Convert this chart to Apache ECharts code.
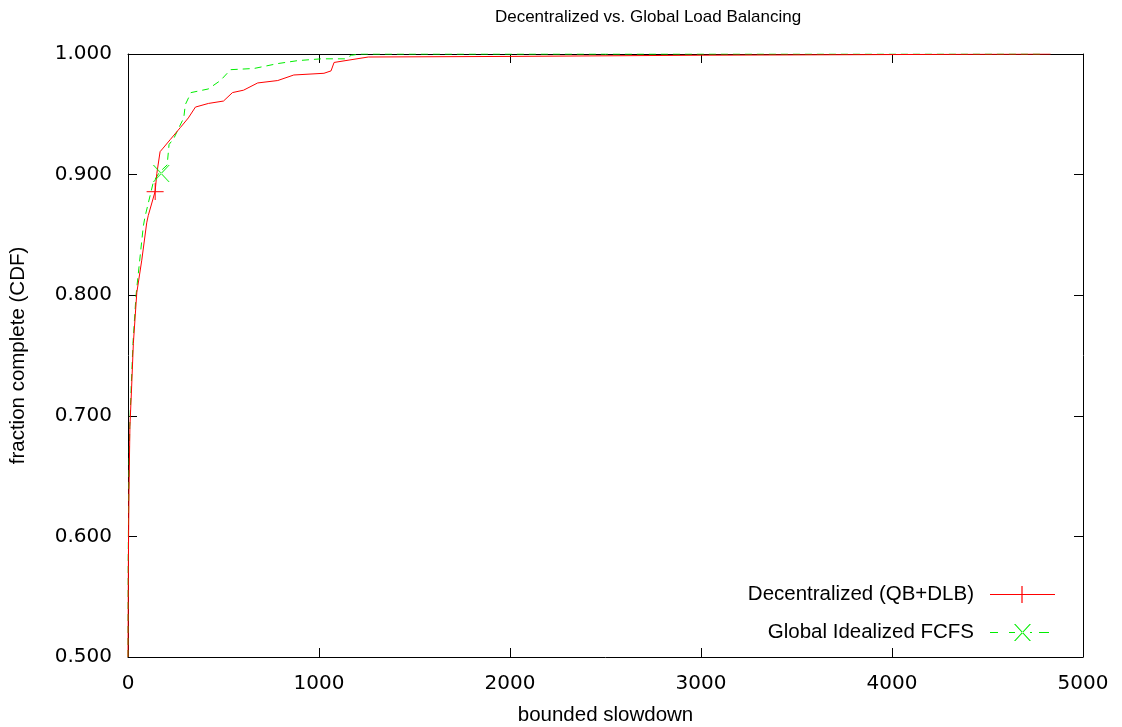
<!DOCTYPE html>
<html>
<head>
<meta charset="utf-8">
<script src="https://cdn.jsdelivr.net/npm/echarts@6/dist/echarts.min.js"></script>
<style>
  html, body { margin: 0; padding: 0; background: #fff; }
  #main { width: 1122px; height: 727px; }
</style>
</head>
<body>
<div id="main"></div>
<script>
var chartDom = document.getElementById('main');
var myChart = echarts.init(chartDom);
var option;

const redName = 'Decentralized (QB+DLB)';
const greenName = 'Global Idealized FCFS';

// [bounded slowdown, fraction complete]
const redData = [
  [0, 0.5], [2, 0.58], [5, 0.636], [10, 0.691], [19, 0.724], [28, 0.76],
  [46, 0.802], [72, 0.829], [98, 0.86], [106, 0.866], [142, 0.886],
  [151, 0.901], [168, 0.919], [184, 0.922], [221, 0.929], [274, 0.939],
  [316, 0.947], [353, 0.956], [421, 0.959], [500, 0.961], [547, 0.968],
  [605, 0.970], [679, 0.976], [784, 0.978], [868, 0.9826], [1026, 0.984],
  [1063, 0.986], [1079, 0.993], [1258, 0.9975], [2000, 0.998],
  [3000, 0.999], [4830, 1.0]
];
const greenData = [
  [0, 0.5], [1, 0.58], [4, 0.64], [9, 0.69], [17, 0.725], [26, 0.76],
  [42, 0.80], [62, 0.83], [80, 0.857], [89, 0.865], [133, 0.894],
  [165, 0.902], [205, 0.908], [215, 0.925], [240, 0.93], [270, 0.94],
  [292, 0.947], [300, 0.958], [330, 0.968], [420, 0.971], [484, 0.978],
  [537, 0.987], [660, 0.988], [782, 0.992], [888, 0.9945], [1011, 0.996],
  [1135, 0.996], [1170, 0.999], [1220, 1.0], [4800, 1.0]
];
// the single point markers gnuplot drew on each curve
const redMarks = [[142, 0.886]];
const greenMarks = [[174, 0.901]];

const xTicks = { min: 0, max: 5000, interval: 1000 };
const yTicks = { min: 0.5, max: 1.0, interval: 0.1 };

const plusPath = 'path://M0,8h17v1.2h-17z M8,0h1.2v17h-1.2z';
const crossPath = 'path://M0,0L1.3,0L17,17L15.7,17Z M17,0L15.7,0L0,17L1.3,17Z';
const redIcon = 'path://M0,7.9h65v1.2h-65z M31.4,0h1.2v17h-1.2z';
const greenIcon = 'path://M0,7.9h8v1.2h-8z M19,7.9h6v1.2h-6z M40,7.9h2v1.2h-2z M49,7.9h10v1.2h-10z M59,8h6v0.01h-6z' +
  ' M24,0L25.4,0L41,17L39.6,17Z M41,0L39.6,0L24,17L25.4,17Z';

const labelFont = 'Liberation Sans, Arial, Helvetica, sans-serif';
const tickFont = 'DejaVu Sans, sans-serif';

function boxAxis(extra) {
  return Object.assign({
    type: 'value',
    axisLine: { show: true, onZero: false, lineStyle: { color: '#000', width: 1 } },
    axisTick: { show: true, inside: true, length: 9, lineStyle: { color: '#000' } },
    splitLine: { show: false }
  }, extra);
}

option = {
  animation: false,
  backgroundColor: '#fff',
  title: {
    text: 'Decentralized vs. Global Load Balancing',
    left: 643,
    top: 4,
    textAlign: 'center',
    textStyle: { fontFamily: labelFont, fontSize: 17, fontWeight: 'normal', color: '#000' }
  },
  legend: {
    orient: 'vertical',
    right: 62,
    top: 579,
    align: 'right',
    itemWidth: 65,
    itemHeight: 17,
    itemGap: 17,
    textStyle: { fontFamily: labelFont, fontSize: 20.5, color: '#000', padding: [0, 11, 0, 0] },
    data: [
      { name: redName, icon: redIcon },
      { name: greenName, icon: greenIcon }
    ]
  },
  grid: { left: 128, right: 39, top: 54, bottom: 70, outerBoundsMode: 'none', containLabel: false },
  xAxis: [
    boxAxis({
      min: xTicks.min, max: xTicks.max, interval: xTicks.interval,
      name: 'bounded slowdown',
      nameLocation: 'middle',
      nameGap: 48,
      nameTextStyle: { fontFamily: labelFont, fontSize: 20.5, color: '#000' },
      axisLabel: { fontFamily: tickFont, fontSize: 20, color: '#000', margin: 17, formatter: v => String(v) }
    }),
    boxAxis({
      position: 'top',
      min: xTicks.min, max: xTicks.max, interval: xTicks.interval,
      axisLabel: { show: false }
    })
  ],
  yAxis: [
    boxAxis({
      min: yTicks.min, max: yTicks.max, interval: yTicks.interval,
      name: 'fraction complete (CDF)',
      nameLocation: 'middle',
      nameGap: 99,
      nameTextStyle: { fontFamily: labelFont, fontSize: 20.5, color: '#000' },
      axisLabel: {
        fontFamily: tickFont, fontSize: 20, color: '#000', margin: 16,
        formatter: v => v.toFixed(3)
      }
    }),
    boxAxis({
      position: 'right',
      min: yTicks.min, max: yTicks.max, interval: yTicks.interval,
      axisLabel: { show: false }
    })
  ],
  series: [
    {
      name: redName,
      type: 'line',
      data: redData,
      showSymbol: false,
      symbol: 'none',
      color: '#ff0000',
      lineStyle: { color: '#ff0000', width: 1 },
      z: 3
    },
    {
      name: greenName,
      type: 'line',
      data: greenData,
      showSymbol: false,
      symbol: 'none',
      color: '#00ee00',
      lineStyle: { color: '#00ee00', width: 1, type: [7, 5] },
      z: 2
    },
    {
      name: redName,
      type: 'scatter',
      data: redMarks,
      symbol: plusPath,
      symbolSize: 17,
      itemStyle: { color: '#ff0000' },
      z: 4
    },
    {
      name: greenName,
      type: 'scatter',
      data: greenMarks,
      symbol: crossPath,
      symbolSize: 17,
      itemStyle: { color: '#00ee00' },
      z: 4
    }
  ]
};

option && myChart.setOption(option);
</script>
</body>
</html>
